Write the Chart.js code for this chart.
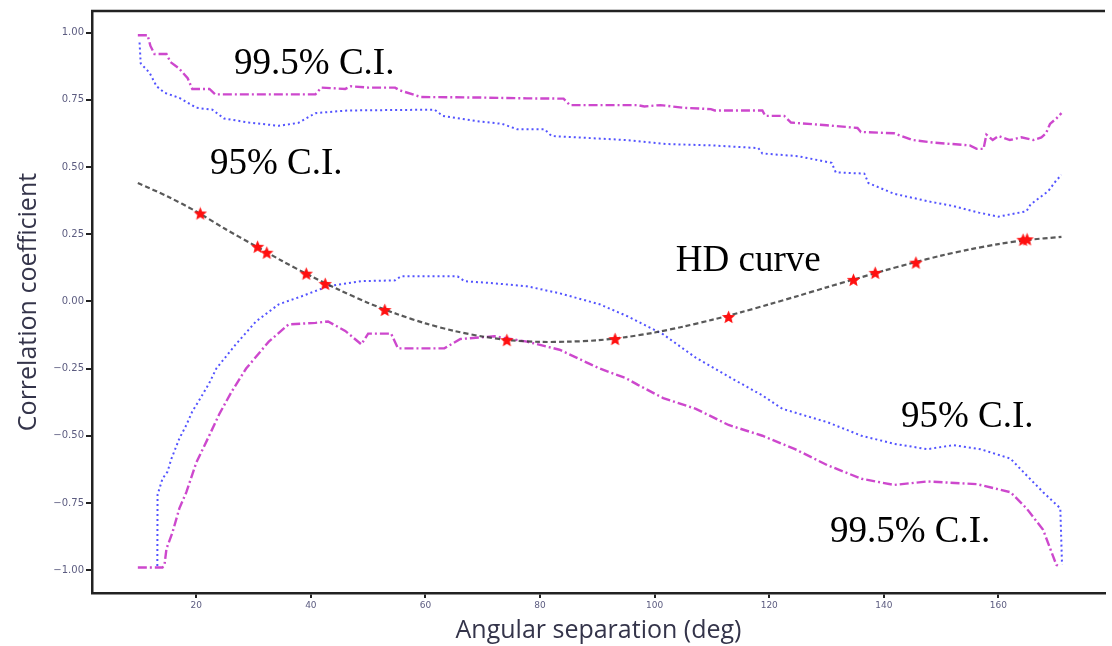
<!DOCTYPE html>
<html>
<head>
<meta charset="utf-8">
<script src="https://cdn.jsdelivr.net/npm/chart.js@4.4.1/dist/chart.umd.min.js"></script>
<style>
  body { margin: 0; background: #fff; }
  #wrap { width: 1112px; height: 646px; }
</style>
</head>
<body>
<div id="wrap"><canvas id="corrChart" width="1112" height="646"></canvas></div>
<script>
// tick labels
const xTicks = [20, 40, 60, 80, 100, 120, 140, 160];
const yTicks = [-1, -0.75, -0.5, -0.25, 0, 0.25, 0.5, 0.75, 1];

// HD curve (deg, correlation)
const hdDeg  = [9.8, 15, 20, 25, 30, 35, 40, 45, 50, 55, 60, 65, 70, 75, 80, 85, 90, 95, 100, 105, 110, 115, 120, 125, 130, 135, 140, 145, 150, 155, 160, 165, 171];
const hdCorr = [0.44, 0.39, 0.334, 0.27, 0.21, 0.15, 0.094, 0.042, -0.006, -0.047, -0.082, -0.11, -0.131, -0.145, -0.151, -0.15, -0.145, -0.133, -0.116, -0.094, -0.069, -0.041, -0.011, 0.02, 0.052, 0.083, 0.114, 0.143, 0.17, 0.193, 0.213, 0.228, 0.24];

// measured pulsar pairs (red stars)
const starDeg  = [20.7, 30.7, 32.3, 39.2, 42.5, 52.9, 74.2, 93.1, 112.9, 134.7, 138.5, 145.6, 164.3, 165.0];
const starCorr = [0.325, 0.201, 0.179, 0.101, 0.063, -0.034, -0.146, -0.142, -0.06, 0.078, 0.104, 0.142, 0.227, 0.229];

// 95% C.I. upper / lower
const ci95UpDeg  = [10.1, 10.3, 11.85, 13.07, 14.45, 17.05, 20.0, 22.8, 24.85, 29.2, 34.4, 37.85, 40.8, 46.5, 61.6, 63.0, 69.0, 73.4, 76.0, 80.8, 82, 95, 102.1, 110, 118.1, 118.8, 125, 130.9, 131.6, 136.6, 137.3, 141.8, 148.2, 152, 156.6, 160, 164.9, 165.6, 168.7, 170.1, 171.0];
const ci95UpVal  = [0.963, 0.885, 0.85, 0.80, 0.776, 0.757, 0.72, 0.713, 0.68, 0.665, 0.653, 0.664, 0.70, 0.71, 0.713, 0.69, 0.67, 0.66, 0.64, 0.64, 0.615, 0.60, 0.585, 0.58, 0.57, 0.55, 0.54, 0.515, 0.48, 0.475, 0.44, 0.40, 0.37, 0.355, 0.33, 0.315, 0.335, 0.36, 0.41, 0.45, 0.47];
const ci95LoDeg  = [13.2, 13.24, 14.1, 14.97, 15.67, 17.05, 18.27, 19.3, 20.87, 22.25, 23.5, 26.9, 30.4, 34.4, 38.4, 43.0, 48.8, 54.7, 55.7, 65.6, 66.8, 72.0, 77.7, 83.4, 90.4, 95.3, 101.5, 107.2, 112.9, 118.8, 122.3, 130.2, 136.1, 141.8, 147.6, 152.2, 156.9, 162.1, 164.9, 167.8, 170.8, 171.1];
const ci95LoVal  = [-0.985, -0.72, -0.66, -0.634, -0.585, -0.51, -0.46, -0.41, -0.355, -0.305, -0.25, -0.16, -0.075, -0.011, 0.019, 0.056, 0.075, 0.078, 0.093, 0.093, 0.075, 0.067, 0.056, 0.03, -0.011, -0.056, -0.123, -0.21, -0.28, -0.35, -0.40, -0.45, -0.50, -0.53, -0.55, -0.535, -0.55, -0.585, -0.647, -0.71, -0.77, -0.98];

// 99.5% C.I. upper / lower
const ci995UpDeg = [9.8, 11.5, 12.0, 12.7, 14.8, 15.5, 17.0, 18.5, 19.3, 22.3, 23.3, 40.8, 41.8, 46, 47, 50, 54.7, 55.5, 59.2, 70, 77.7, 84.1, 85.2, 97.0, 98.2, 101, 105, 109.8, 110.5, 118.8, 119.3, 122.6, 123.8, 130, 135.4, 136, 141.8, 145, 148.8, 152, 155, 156.2, 157.4, 157.9, 159, 160, 162, 164, 166.1, 167.5, 168.3, 169.0, 170.1, 171.0];
const ci995UpVal = [0.99, 0.99, 0.95, 0.92, 0.92, 0.89, 0.866, 0.83, 0.79, 0.79, 0.77, 0.77, 0.795, 0.79, 0.80, 0.795, 0.795, 0.785, 0.76, 0.758, 0.755, 0.754, 0.73, 0.73, 0.725, 0.73, 0.72, 0.715, 0.71, 0.71, 0.69, 0.69, 0.665, 0.655, 0.645, 0.63, 0.625, 0.60, 0.59, 0.585, 0.58, 0.567, 0.567, 0.62, 0.60, 0.615, 0.60, 0.61, 0.60, 0.61, 0.625, 0.66, 0.68, 0.70];
const ci995LoDeg = [9.8, 14.1, 14.45, 14.8, 15.84, 17.05, 18.27, 20.0, 22.25, 24.0, 26.2, 28.7, 32.65, 36.1, 40.8, 43.0, 46.0, 48.8, 50.0, 54.0, 55.2, 63.3, 66.1, 72.0, 77.7, 83.4, 90.4, 95.0, 97.0, 101.5, 107.2, 112.9, 118.8, 124.5, 130.2, 136.1, 141.8, 147.6, 156.2, 162.1, 164.9, 167.8, 170.1, 170.8];
const ci995LoVal = [-0.99, -0.99, -0.98, -0.92, -0.86, -0.77, -0.71, -0.60, -0.50, -0.42, -0.335, -0.25, -0.15, -0.086, -0.08, -0.075, -0.11, -0.16, -0.12, -0.12, -0.175, -0.175, -0.14, -0.13, -0.15, -0.18, -0.25, -0.286, -0.31, -0.36, -0.40, -0.46, -0.50, -0.55, -0.61, -0.66, -0.683, -0.67, -0.68, -0.71, -0.77, -0.85, -0.98, -0.99];

// text labels on the plot (deg, correlation)
const noteText = ['99.5% C.I.', '95% C.I.', 'HD curve', '95% C.I.', '99.5% C.I.'];
const noteDeg  = [26.6, 22.4, 103.7, 143.0, 130.6];
const noteCorr = [0.847, 0.474, 0.112, -0.466, -0.896];

function pairs(xs, ys){
  return xs.map((x, i) => ({x: x, y: ys[i]}));
}

// filled red star used as point marker
function makeStar(size){
  let c = document.createElement('canvas');
  c.width = size; c.height = size;
  let g = c.getContext('2d');
  let cx = size / 2, cy = size / 2, R = size / 2 - 0.5, r = R * 0.45;
  g.beginPath();
  for (let i = 0; i < 10; i++) {
    let a = -Math.PI / 2 + i * Math.PI / 5;
    let rad = (i % 2 === 0) ? R : r;
    g.lineTo(cx + rad * Math.cos(a), cy + rad * Math.sin(a));
  }
  g.closePath();
  g.fillStyle = '#ff1010';
  g.fill();
  return c;
}
const starImg = makeStar(15);

const magenta = 'rgba(196,40,196,0.85)';
const blue = 'rgba(40,40,255,0.8)';

const topLine = {
  id: 'topLine',
  afterDraw(chart){
    const ctx = chart.ctx, a = chart.chartArea;
    ctx.save();
    ctx.strokeStyle = '#222';
    ctx.lineWidth = 2.5;
    ctx.beginPath();
    ctx.moveTo(a.left - 1, a.top);
    ctx.lineTo(a.right, a.top);
    ctx.stroke();
    ctx.restore();
  }
};

const notes = {
  id: 'notes',
  afterDatasetsDraw(chart){
    const ctx = chart.ctx, xs = chart.scales.x, ys = chart.scales.y;
    ctx.save();
    ctx.fillStyle = '#000';
    ctx.font = '37px "Liberation Serif", "Times New Roman", serif';
    ctx.textBaseline = 'alphabetic';
    for (let i = 0; i < noteText.length; i++) {
      ctx.fillText(noteText[i], xs.getPixelForValue(noteDeg[i]), ys.getPixelForValue(noteCorr[i]));
    }
    ctx.restore();
  }
};

function minus(v){
  let s = Math.abs(v).toFixed(2);
  return v < 0 ? '\u2212' + s : s;
}

new Chart('corrChart', {
  type: 'line',
  data: {
    datasets: [
      {data: pairs(starDeg, starCorr), showLine: false, pointStyle: starImg, pointRadius: 7, borderWidth: 0},
      {data: pairs(hdDeg, hdCorr), borderColor: 'rgba(60,60,60,0.85)', borderWidth: 2.2, borderDash: [5, 3], pointRadius: 0, tension: 0.3},
      {data: pairs(ci95UpDeg, ci95UpVal), borderColor: blue, borderWidth: 2, borderDash: [2, 3], pointRadius: 0},
      {data: pairs(ci95LoDeg, ci95LoVal), borderColor: blue, borderWidth: 2, borderDash: [2, 3], pointRadius: 0},
      {data: pairs(ci995UpDeg, ci995UpVal), borderColor: magenta, borderWidth: 2.4, borderDash: [9, 3, 2, 3], pointRadius: 0},
      {data: pairs(ci995LoDeg, ci995LoVal), borderColor: magenta, borderWidth: 2.4, borderDash: [9, 3, 2, 3], pointRadius: 0}
    ]
  },
  options: {
    responsive: false,
    animation: false,
    layout: {padding: {top: 11, right: 0, left: 0, bottom: 0}},
    plugins: {legend: {display: false}, tooltip: {enabled: false}},
    scales: {
      x: {
        type: 'linear',
        min: 1.8, max: 178.6,
        afterBuildTicks: s => { s.ticks = xTicks.map(v => ({value: v})); },
        afterFit: s => { s.height = 53; },
        border: {display: true, color: '#222', width: 2.5},
        grid: {drawOnChartArea: false, drawTicks: true, tickLength: 5, color: '#222', lineWidth: 2},
        ticks: {font: {family: 'DejaVu Sans', size: 9}, color: '#5c5c80', padding: 2, maxRotation: 0},
        title: {display: true, text: 'Angular separation (deg)', color: '#34344a',
                font: {family: 'Open Sans', size: 25}, padding: {top: 1, bottom: 0}}
      },
      y: {
        type: 'linear',
        min: -1.085, max: 1.08,
        afterBuildTicks: s => { s.ticks = yTicks.map(v => ({value: v})); },
        afterFit: s => { s.width = 92; },
        border: {display: true, color: '#222', width: 2.5},
        grid: {drawOnChartArea: false, drawTicks: true, tickLength: 6, color: '#222', lineWidth: 2},
        ticks: {font: {family: 'DejaVu Sans', size: 10}, color: '#5c5c80', padding: 2, callback: v => minus(v)},
        title: {display: true, text: 'Correlation coefficient', color: '#34344a',
                font: {family: 'Open Sans', size: 25}, padding: {top: 14, bottom: 0}}
      }
    }
  },
  plugins: [topLine, notes]
});
</script>
</body>
</html>
